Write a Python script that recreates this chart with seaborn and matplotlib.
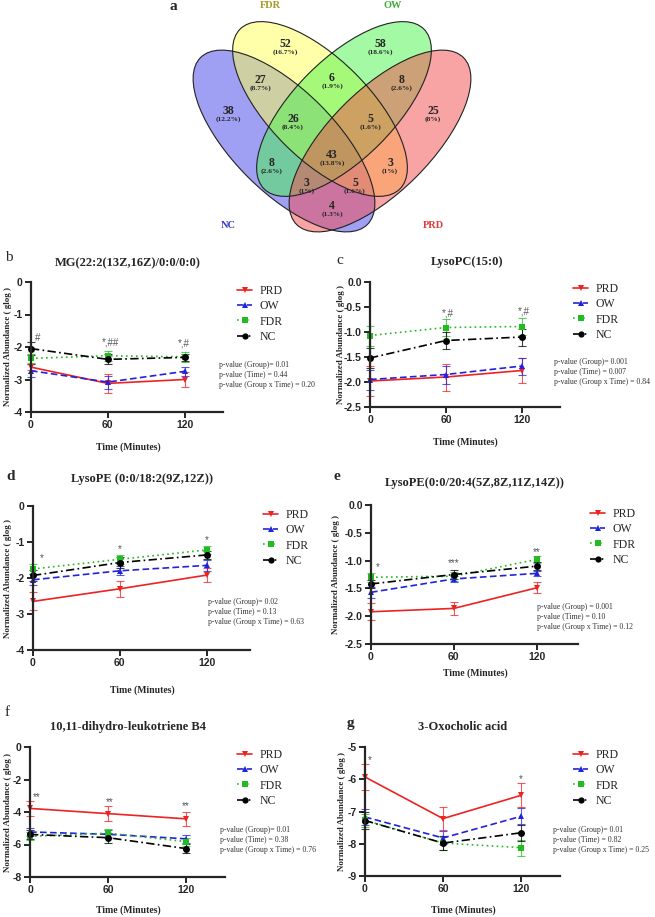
import numpy as np
import pandas as pd
import matplotlib
matplotlib.use('Agg')
import matplotlib.pyplot as plt
from matplotlib.patches import Ellipse
from matplotlib.lines import Line2D
import seaborn as sns

sns.set_style("ticks")
plt.rcParams['font.family'] = ['Liberation Serif', 'DejaVu Serif']

W, H = 655, 917

# ---- data ----
times = [0, 60, 120]
groups = ['PRD', 'OW', 'FDR', 'NC']

# Venn (panel a)
venn_sets = ['NC', 'FDR', 'OW', 'PRD']
venn_counts = [52, 58, 27, 6, 8, 38, 26, 5, 25, 43, 8, 3, 3, 5, 4]
venn_pcts = ['16.7%', '18.6%', '8.7%', '1.9%', '2.6%', '12.2%', '8.4%', '1.6%',
             '8%', '13.8%', '2.6%', '1%', '1%', '1.6%', '1.3%']

# means [PRD, OW, FDR, NC] x [0, 60, 120] and SEM
mg_mean = [[-2.62, -3.12, -3.00], [-2.73, -3.08, -2.75], [-2.35, -2.27, -2.30], [-2.05, -2.38, -2.32]]
mg_err = [[0.10, 0.28, 0.22], [0.20, 0.20, 0.15], [0.15, 0.15, 0.15], [0.20, 0.15, 0.12]]

pc_mean = [[-1.98, -1.90, -1.77], [-1.95, -1.85, -1.68], [-1.07, -0.91, -0.89], [-1.52, -1.17, -1.10]]
pc_err = [[0.30, 0.27, 0.25], [0.20, 0.18, 0.17], [0.20, 0.17, 0.17], [0.20, 0.17, 0.17]]

pe18_mean = [[-2.65, -2.30, -1.92], [-2.05, -1.80, -1.65], [-1.75, -1.48, -1.22], [-1.93, -1.57, -1.36]]
pe18_err = [[0.25, 0.22, 0.20], [0.15, 0.12, 0.15], [0.15, 0.12, 0.12], [0.15, 0.15, 0.12]]

pe20_mean = [[-1.92, -1.86, -1.49], [-1.57, -1.33, -1.23], [-1.30, -1.28, -0.98], [-1.42, -1.25, -1.10]]
pe20_err = [[0.15, 0.12, 0.10], [0.10, 0.05, 0.05], [0.08, 0.08, 0.06], [0.08, 0.08, 0.07]]

lt_mean = [[-3.78, -4.10, -4.42], [-5.23, -5.37, -5.65], [-5.50, -5.30, -5.82], [-5.38, -5.58, -6.25]]
lt_err = [[0.45, 0.45, 0.45], [0.25, 0.25, 0.25], [0.25, 0.25, 0.25], [0.30, 0.30, 0.30]]

oc_mean = [[-5.93, -7.22, -6.50], [-7.17, -7.82, -7.15], [-7.27, -7.98, -8.12], [-7.28, -7.98, -7.66]]
oc_err = [[0.40, 0.35, 0.37], [0.25, 0.20, 0.25], [0.20, 0.20, 0.25], [0.25, 0.22, 0.25]]

mg_marks = [(5, -1.72, '#'), (62, -1.87, '*,##'), (119, -1.9, '*,#')]
pc_marks = [(61, -0.62, '*,#'), (121, -0.58, '*,#')]
pe18_marks = [(6, -1.45, '*'), (60, -1.2, '*'), (120, -0.95, '*')]
pe20_marks = [(5, -1.12, '*'), (60, -1.05, '***'), (120, -0.85, '**')]
lt_marks = [(5, -3.1, '**'), (61, -3.4, '**'), (120, -3.65, '**')]
oc_marks = [(4, -5.4, '*'), (120, -6.0, '*')]

mg_p = ['0.01', '0.44', '0.20']
pc_p = ['0.001', '0.007', '0.84']
pe18_p = ['0.02', '0.13', '0.63']
pe20_p = ['0.001', '0.10', '0.12']
lt_p = ['0.01', '0.38', '0.76']
oc_p = ['0.01', '0.82', '0.25']

# ---- styles ----
colors = {'PRD': '#ee2222', 'OW': '#2222dd', 'FDR': '#22bb22', 'NC': '#000000'}
markers = {'PRD': 'v', 'OW': '^', 'FDR': 's', 'NC': 'o'}
dashes = {'PRD': '', 'OW': (4, 2), 'FDR': (1, 2), 'NC': (5, 2, 1, 2)}
venn_fill = {'NC': '#4141eb', 'FDR': '#ffff55', 'OW': '#4bf54b', 'PRD': '#f54b4b'}
venn_text = {'NC': '#3333cc', 'FDR': '#a89a2a', 'OW': '#3caa3c', 'PRD': '#e03c3c'}


def fx(x):
    return x / W


def fy(y):
    return 1 - y / H


fig = plt.figure(figsize=(W / 100, H / 100), dpi=100)

# ---- panel a: Venn ----
va = fig.add_axes([0, fy(290), 1, 290 / H])
va.set_xlim(0, W)
va.set_ylim(290, 0)
va.axis('off')
ell_centers = [(284, 141), (320, 109), (344, 109), (380, 141)]
ell_sizes = [(236, 102), (226, 100), (226, 100), (236, 102)]
ell_angles = [45, 45, -45, -45]
for name, c, sz, ang in zip(venn_sets, ell_centers, ell_sizes, ell_angles):
    va.add_patch(Ellipse(c, sz[0], sz[1], angle=ang, facecolor=venn_fill[name],
                         alpha=0.5, edgecolor='none'))
for c, sz, ang in zip(ell_centers, ell_sizes, ell_angles):
    va.add_patch(Ellipse(c, sz[0], sz[1], angle=ang, facecolor='none',
                         edgecolor='#222222', lw=0.8))
region_xy = [(285, 44), (380, 44), (260, 80), (332, 78), (402, 80), (228, 111),
             (293, 119), (370, 119), (433, 111), (332, 155), (272, 163),
             (390, 163), (307, 183), (355, 183), (332, 206)]
for (x, y), n, p in zip(region_xy, venn_counts, venn_pcts):
    va.text(x, y, str(n), ha='center', va='center', fontsize=8.5, fontweight='bold')
    va.text(x, y + 8.5, '(' + p + ')', ha='center', va='center', fontsize=5.3,
            fontweight='bold')
set_label_xy = [(228, 226), (270, 6), (393, 6), (433, 226)]
for name, (x, y) in zip(venn_sets, set_label_xy):
    va.text(x, y, name, ha='center', va='center', fontsize=7.5, fontweight='bold',
            color=venn_text[name])
fig.text(fx(170), fy(6), 'a', fontsize=11, fontweight='bold', va='center')

# ---- line panels ----
panels = [
    dict(mean=mg_mean, err=mg_err, marks=mg_marks, p=mg_p, rect=(31, 282, 223, 412),
         ylim=(-4, 0), yt=[0, -1, -2, -3, -4], ytl=['0', '-1', '-2', '-3', '-4'],
         title='MG(22:2(13Z,16Z)/0:0/0:0)', txy=(128, 263), letter='b', lxy=(5, 258),
         lbold=False, xl=(128, 447), yl=8, leg=(237, 285), pxy=(219, 365), pg='= '),
    dict(mean=pc_mean, err=pc_err, marks=pc_marks, p=pc_p, rect=(370, 282, 560, 407),
         ylim=(-2.5, 0), yt=[0, -0.5, -1, -1.5, -2, -2.5],
         ytl=['0.0', '-0.5', '-1.0', '-1.5', '-2.0', '-2.5'],
         title='LysoPC(15:0)', txy=(467, 262), letter='c', lxy=(336, 261),
         lbold=False, xl=(465, 442), yl=341, leg=(573, 283), pxy=(554, 362), pg='= '),
    dict(mean=pe18_mean, err=pe18_err, marks=pe18_marks, p=pe18_p, rect=(33, 506, 250, 650),
         ylim=(-4, 0), yt=[0, -1, -2, -3, -4], ytl=['0', '-1', '-2', '-3', '-4'],
         title='LysoPE (0:0/18:2(9Z,12Z))', txy=(142, 479), letter='d', lxy=(6, 477),
         lbold=True, xl=(142, 690), yl=8, leg=(263, 509), pxy=(208, 602), pg='= '),
    dict(mean=pe20_mean, err=pe20_err, marks=pe20_marks, p=pe20_p, rect=(371, 505, 578, 644),
         ylim=(-2.5, 0), yt=[0, -0.5, -1, -1.5, -2, -2.5],
         ytl=['0.0', '-0.5', '-1.0', '-1.5', '-2.0', '-2.5'],
         title='LysoPE(0:0/20:4(5Z,8Z,11Z,14Z))', txy=(475, 483), letter='e', lxy=(334, 476),
         lbold=True, xl=(475, 673), yl=336, leg=(590, 508), pxy=(537, 607), pg=' = '),
    dict(mean=lt_mean, err=lt_err, marks=lt_marks, p=lt_p, rect=(30, 747, 225, 877),
         ylim=(-8, 0), yt=[0, -2, -4, -6, -8], ytl=['0', '-2', '-4', '-6', '-8'],
         title='10,11-dihydro-leukotriene B4', txy=(128, 727), letter='f', lxy=(5, 713),
         lbold=False, xl=(128, 910), yl=8, leg=(237, 749), pxy=(220, 830), pg='= '),
    dict(mean=oc_mean, err=oc_err, marks=oc_marks, p=oc_p, rect=(365, 747, 560, 876),
         ylim=(-9, -5), yt=[-5, -6, -7, -8, -9], ytl=['-5', '-6', '-7', '-8', '-9'],
         title='3-Oxocholic acid', txy=(463, 727), letter='g', lxy=(347, 724),
         lbold=True, xl=(463, 910), yl=342, leg=(573, 749), pxy=(553, 830), pg='= '),
]

tick_font = {'family': 'Liberation Sans', 'weight': 'bold', 'size': 7.5}

for pnl in panels:
    l, t, r, b = pnl['rect']
    ax = fig.add_axes([fx(l), fy(b), (r - l) / W, (b - t) / H])

    rows = []
    for g, vals, errs in zip(groups, pnl['mean'], pnl['err']):
        for tm, v, e in zip(times, vals, errs):
            rows.append({'group': g, 'time': tm, 'value': v, 'err': e})
    df = pd.DataFrame(rows)

    for g in groups:
        sub = df[df['group'] == g]
        eb = ax.errorbar(sub['time'], sub['value'], yerr=sub['err'], fmt='none',
                         ecolor=colors[g], elinewidth=0.8, capsize=3, capthick=0.8,
                         alpha=0.75)
        for art in list(eb.lines[1]) + list(eb.lines[2]):
            art.set_clip_on(False)

    sns.lineplot(data=df, x='time', y='value', hue='group', style='group',
                 hue_order=groups, style_order=groups, palette=colors,
                 markers=markers, dashes=dashes, markersize=5, markeredgewidth=0,
                 linewidth=1.2, legend=False, errorbar=None, ax=ax, clip_on=False)

    ax.set_xlim(0, 150)
    ax.set_ylim(*pnl['ylim'])
    ax.set_xticks(times)
    ax.set_xticklabels([str(tm) for tm in times], fontdict=tick_font)
    ax.set_yticks(pnl['yt'])
    ax.set_yticklabels(pnl['ytl'], fontdict=tick_font)
    ax.set_xlabel('')
    ax.set_ylabel('')
    sns.despine(ax=ax)
    for s in ['left', 'bottom']:
        ax.spines[s].set_linewidth(1.6)
    ax.tick_params(width=1.4, length=4, direction='out', pad=2)

    for x, y, s in pnl['marks']:
        ax.text(x, y, s, ha='center', va='center', fontsize=7, color='#555555',
                family='Liberation Sans')

    # titles and labels
    fig.text(fx(pnl['txy'][0]), fy(pnl['txy'][1]), pnl['title'], ha='center',
             va='center', fontsize=9, fontweight='bold')
    fig.text(fx(pnl['lxy'][0]), fy(pnl['lxy'][1]), pnl['letter'], ha='left',
             va='center', fontsize=11, fontweight='bold' if pnl['lbold'] else 'normal')
    fig.text(fx(pnl['xl'][0]), fy(pnl['xl'][1]), 'Time (Minutes)', ha='center',
             va='center', fontsize=7, fontweight='bold')
    fig.text(fx(pnl['yl']), fy((t + b) / 2), 'Normalized Abundance ( glog )',
             rotation=90, ha='center', va='center', fontsize=6.5, fontweight='bold')

    # p-values
    p = pnl['p']
    ptxt = ['p-value (Group)' + pnl['pg'] + p[0], 'p-value (Time) = ' + p[1],
            'p-value (Group x Time) = ' + p[2]]
    for i, s in enumerate(ptxt):
        fig.text(fx(pnl['pxy'][0]), fy(pnl['pxy'][1] + i * 9.8), s, ha='left',
                 va='center', fontsize=5.6, color='#333333')

    # legend
    handles = []
    for g in groups:
        ls = '-' if dashes[g] == '' else (0, dashes[g])
        handles.append(Line2D([], [], color=colors[g], linestyle=ls, lw=1.2,
                              marker=markers[g], markersize=4.5, markeredgewidth=0))
    ax.legend(handles, groups, loc='upper left',
              bbox_to_anchor=(fx(pnl['leg'][0]), fy(pnl['leg'][1])),
              bbox_transform=fig.transFigure, frameon=False, borderpad=0,
              borderaxespad=0, handlelength=1.3, handletextpad=0.6,
              labelspacing=0.28, fontsize=8.5)

fig.savefig('out.png', dpi=100)
